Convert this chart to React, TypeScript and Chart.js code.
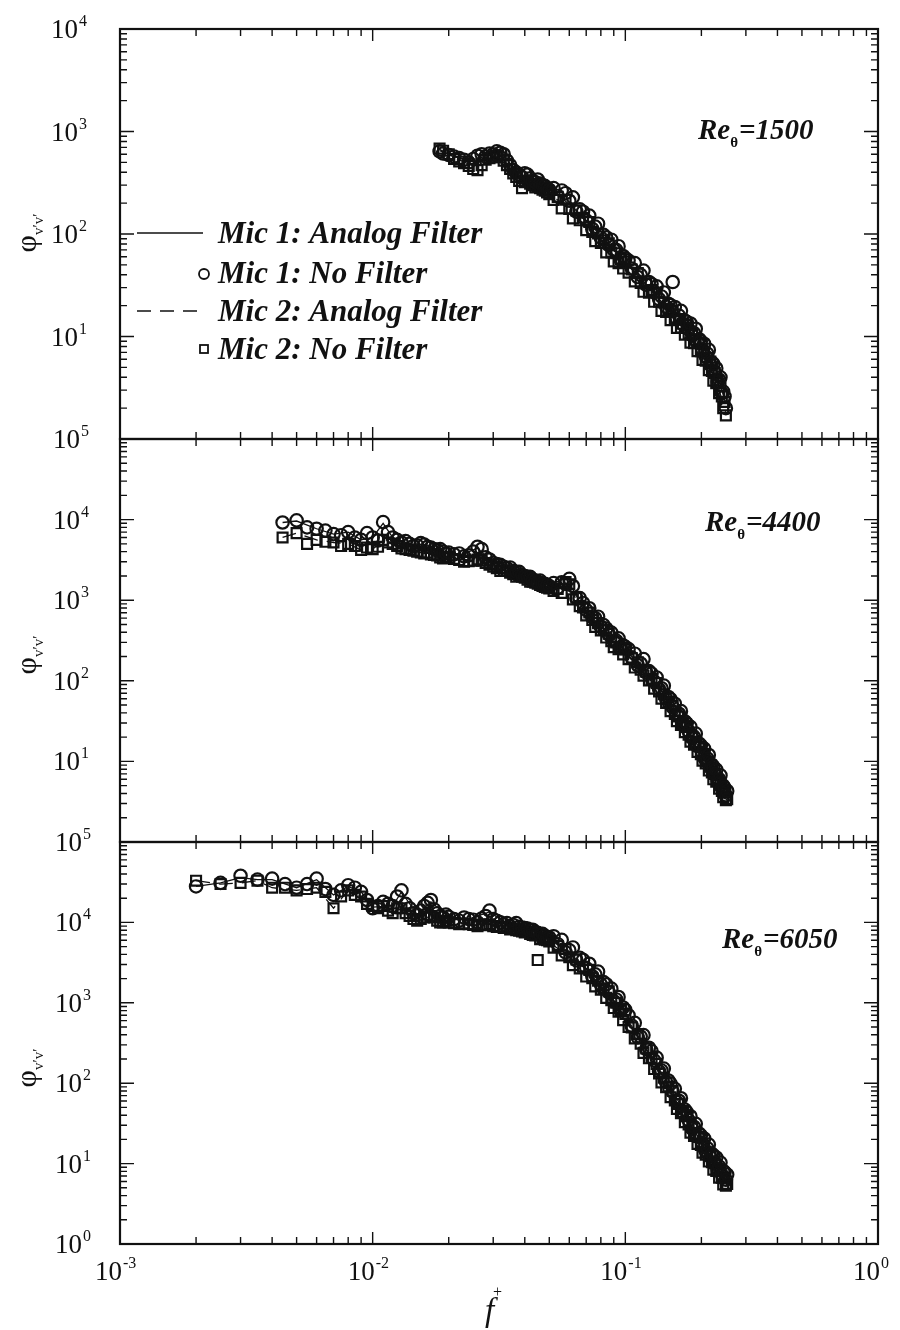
import React, { useEffect, useRef } from "react";
import { Chart, registerables } from "chart.js";

Chart.register(...registerables);

// ---------- Panel 1 : Re_theta = 1500 ----------
const f1 = [0.0184, 0.019, 0.02, 0.021, 0.022, 0.023, 0.024, 0.025, 0.026, 0.027, 0.028, 0.029, 0.03, 0.031, 0.032, 0.033, 0.034, 0.035, 0.036, 0.037, 0.038, 0.039, 0.04, 0.041, 0.042, 0.043, 0.044, 0.045, 0.046, 0.047, 0.048, 0.049, 0.05,
  0.052, 0.054, 0.056, 0.058, 0.06, 0.062, 0.064, 0.066, 0.068, 0.07, 0.072, 0.074, 0.076, 0.078, 0.08, 0.082, 0.084, 0.086, 0.088, 0.09, 0.092, 0.094, 0.096, 0.098, 0.1,
  0.103, 0.106, 0.109, 0.112, 0.115, 0.118, 0.121, 0.124, 0.127, 0.13, 0.133, 0.136, 0.139, 0.142, 0.145, 0.148, 0.151, 0.154, 0.157, 0.16, 0.163, 0.166, 0.169, 0.172, 0.175, 0.178, 0.181, 0.184, 0.187, 0.19, 0.193, 0.196, 0.199, 0.202, 0.205, 0.208, 0.211, 0.214, 0.217, 0.22, 0.223, 0.226, 0.229, 0.232, 0.235, 0.238, 0.241, 0.244, 0.247, 0.25];
const mic1NoFilter1 = [640, 610, 590, 570, 550, 530, 500, 540, 580, 600, 570, 610, 600, 640, 620, 600, 520, 470, 420, 400, 380, 360, 390, 380, 350, 330, 320, 340, 310, 300, 295, 280, 270,
  280, 235, 266, 250, 211, 228, 165, 174, 165, 136, 151, 112, 118, 126, 92, 98, 93, 78, 88, 70, 70, 76, 56, 61, 58,
  55, 46, 52, 38, 40, 44, 32, 34, 32.5, 27.3, 30.8, 23.2, 24.6, 26.9, 19.6, 20.9, 20.2, 34, 19.4, 14.9, 16, 17.8, 13.2, 14.3, 13.9, 11.8, 13.4, 10.2, 10.8, 11.9, 8.7, 9.4, 9, 7.5, 8.5, 6.4, 6.8, 7.4, 5.3, 5.6, 5.4, 4.4, 4.9, 3.6, 3.8, 4.0, 2.8, 2.9, 2.6, 2.0];
const mic2NoFilter1 = [680, 650, 600, 540, 510, 490, 460, 430, 420, 470, 530, 550, 560, 580, 560, 520, 470, 430, 390, 360, 330, 280, 320, 330, 310, 300, 285, 290, 280, 270, 265, 255, 245,
  215, 230, 178, 216, 176, 142, 170, 136, 144, 109, 131, 105, 85, 101, 82, 87, 66, 81, 66, 54, 65, 52, 57, 46, 54,
  42, 45, 34.4, 41.6, 33.3, 27.3, 33, 26.7, 28.4, 21.8, 26.7, 21.8, 17.8, 21.5, 17.4, 18.6, 14.4, 17.7, 14.6, 12.1, 14.8, 12.2, 13.3, 10.4, 12.9, 10.6, 8.7, 10.6, 8.6, 9.3, 7.2, 8.8, 7.2, 5.9, 7.1, 5.8, 6.2, 4.7, 5.7, 4.6, 3.7, 4.4, 3.5, 3.7, 2.8, 3.3, 2.6, 2.0, 2.3, 1.7];
const fLine1 = [0.0184, 0.021, 0.024, 0.027, 0.03, 0.033, 0.036, 0.04, 0.045, 0.05, 0.056, 0.063, 0.07, 0.08, 0.09, 0.1, 0.115, 0.13, 0.15, 0.17, 0.19, 0.21, 0.23, 0.25];
const mic1Analog1 = [650, 570, 520, 560, 610, 600, 440, 360, 310, 270, 225, 175, 135, 97, 72, 52, 37, 26, 18, 15, 10.2, 6.8, 4.4, 2.2];
const mic2Analog1 = [670, 560, 480, 470, 560, 540, 390, 330, 290, 250, 200, 160, 115, 87, 60, 46, 33, 24, 16.5, 12.5, 9, 5.8, 3.6, 1.8];

// ---------- Panel 2 : Re_theta = 4400 ----------
const f2 = [0.0044, 0.005, 0.0055, 0.006, 0.0065, 0.007, 0.0075, 0.008, 0.0085, 0.009, 0.0095, 0.01, 0.0105, 0.011, 0.0115, 0.012, 0.0125,
  0.013, 0.0135, 0.014, 0.0145, 0.015, 0.0155, 0.016, 0.0165, 0.017, 0.0175, 0.018, 0.0185, 0.019, 0.0195, 0.02,
  0.021, 0.022, 0.023, 0.024, 0.025, 0.026, 0.027, 0.028, 0.029, 0.03, 0.031, 0.032, 0.033, 0.034, 0.035, 0.036, 0.037, 0.038, 0.039, 0.04, 0.041, 0.042, 0.043, 0.044, 0.045, 0.046, 0.047, 0.048, 0.049, 0.05,
  0.052, 0.054, 0.056, 0.058, 0.06, 0.062, 0.064, 0.066, 0.068, 0.07, 0.072, 0.074, 0.076, 0.078, 0.08, 0.082, 0.084, 0.086, 0.088, 0.09, 0.092, 0.094, 0.096, 0.098, 0.1,
  0.103, 0.106, 0.109, 0.112, 0.115, 0.118, 0.121, 0.124, 0.127, 0.13, 0.133, 0.136, 0.139, 0.142, 0.145, 0.148, 0.151, 0.154, 0.157, 0.16, 0.163, 0.166, 0.169, 0.172, 0.175, 0.178, 0.181, 0.184, 0.187, 0.19, 0.193, 0.196, 0.199, 0.202, 0.205, 0.208, 0.211, 0.214, 0.217, 0.22, 0.223, 0.226, 0.229, 0.232, 0.235, 0.238, 0.241, 0.244, 0.247, 0.25, 0.253];
const mic1NoFilter2 = [9200, 9800, 8000, 7700, 7300, 6600, 6400, 7000, 6000, 5600, 6800, 6000, 5500, 9300, 7000, 6000, 5600,
  5200, 5400, 5000, 4700, 4800, 5100, 4900, 4600, 4500, 4300, 4200, 4300, 4000, 3800, 3900,
  3700, 3800, 3500, 3600, 4000, 4600, 4300, 3400, 3200, 2900, 2800, 2750, 2600, 2500, 2550, 2300, 2250, 2250, 2050, 2000, 1950, 1950, 1800, 1750, 1700, 1750, 1620, 1600, 1550, 1500,
  1630, 1420, 1670, 1600, 1840, 1500, 1060, 1060, 924, 760, 794, 611, 599, 624, 470, 490, 446, 375, 397, 310, 315, 336, 257, 275, 264,
  247, 195, 217, 156, 164, 186, 126, 132, 123, 98, 110, 79, 81, 87, 60, 63, 59, 47, 52, 38, 39, 42, 29.6, 31.4, 29.7, 23.8, 26.8, 19.5, 20.2, 22.1, 15.5, 16.6, 15.8, 12.7, 14.4, 10.5, 10.9, 12, 8.4, 9.1, 8.6, 7.0, 7.9, 5.8, 6.0, 6.7, 4.7, 5.0, 4.7, 3.8, 4.3];
const mic2NoFilter2 = [6000, 6800, 5000, 5600, 5300, 5200, 4700, 5000, 4700, 4200, 4500, 4300, 4600, 5600, 5200, 5000, 4700,
  4400, 4300, 4200, 4100, 4000, 3900, 3800, 3900, 3700, 3650, 3600, 3400, 3300, 3450, 3400,
  3250, 3150, 3000, 3050, 3100, 3200, 3100, 2900, 2750, 2600, 2500, 2300, 2350, 2300, 2200, 2100, 1950, 2000, 1950, 1900, 1800, 1700, 1700, 1650, 1600, 1550, 1500, 1460, 1430, 1400,
  1300, 1380, 1230, 1680, 1580, 1025, 1080, 845, 815, 646, 704, 567, 467, 520, 422, 432, 344, 383, 311, 262, 300, 246, 254, 212, 245,
  185, 191, 146, 170, 137, 116, 130, 101, 105, 80, 94, 74, 60, 68, 53, 55, 42, 49, 38.7, 31.6, 36, 28.4, 29.9, 23, 26.8, 21.4, 17.6, 20.3, 16.1, 17, 13.1, 15.4, 12.3, 10.2, 11.8, 9.4, 9.9, 7.7, 9, 7.3, 6, 7, 5.6, 5.9, 4.6, 5.4, 4.3, 3.6, 4.1, 3.3, 3.4];
const fLine2 = [0.0044, 0.005, 0.006, 0.007, 0.008, 0.009, 0.01, 0.011, 0.012, 0.014, 0.016, 0.019, 0.022, 0.026, 0.03, 0.035, 0.04, 0.047, 0.055, 0.06, 0.066, 0.075, 0.085, 0.1, 0.115, 0.13, 0.15, 0.17, 0.19, 0.21, 0.23, 0.252];
const mic1Analog2 = [9200, 9600, 7700, 6600, 7000, 5600, 6000, 9000, 6000, 5000, 4900, 4000, 3600, 4400, 2900, 2400, 2000, 1650, 1400, 1650, 950, 580, 390, 240, 155, 100, 54, 30, 17.5, 10, 5.8, 3.3];
const mic2Analog2 = [6000, 6800, 5600, 5200, 5000, 4200, 4300, 5500, 5000, 4200, 3800, 3300, 3200, 3150, 2600, 2200, 1900, 1550, 1300, 1400, 900, 540, 360, 220, 140, 92, 50, 28, 16, 9.4, 5.4, 3.1];

// ---------- Panel 3 : Re_theta = 6050 ----------
const f3 = [0.002, 0.0025, 0.003, 0.0035, 0.004, 0.0045, 0.005, 0.0055, 0.006, 0.0065, 0.007, 0.0075, 0.008, 0.0085, 0.009, 0.0095, 0.01,
  0.0105, 0.011, 0.0115, 0.012, 0.0125, 0.013, 0.0135, 0.014, 0.0145, 0.015, 0.0155, 0.016, 0.0165, 0.017, 0.0175, 0.018, 0.0185, 0.019, 0.0195, 0.02,
  0.021, 0.022, 0.023, 0.024, 0.025, 0.026, 0.027, 0.028, 0.029, 0.03, 0.031, 0.032, 0.033, 0.034, 0.035, 0.036, 0.037, 0.038, 0.039, 0.04, 0.041, 0.042, 0.043, 0.044, 0.045, 0.046, 0.047, 0.048, 0.049, 0.05,
  0.052, 0.054, 0.056, 0.058, 0.06, 0.062, 0.064, 0.066, 0.068, 0.07, 0.072, 0.074, 0.076, 0.078, 0.08, 0.082, 0.084, 0.086, 0.088, 0.09, 0.092, 0.094, 0.096, 0.098, 0.1,
  0.103, 0.106, 0.109, 0.112, 0.115, 0.118, 0.121, 0.124, 0.127, 0.13, 0.133, 0.136, 0.139, 0.142, 0.145, 0.148, 0.151, 0.154, 0.157, 0.16, 0.163, 0.166, 0.169, 0.172, 0.175, 0.178, 0.181, 0.184, 0.187, 0.19, 0.193, 0.196, 0.199, 0.202, 0.205, 0.208, 0.211, 0.214, 0.217, 0.22, 0.223, 0.226, 0.229, 0.232, 0.235, 0.238, 0.241, 0.244, 0.247, 0.25, 0.253];
const mic1NoFilter3 = [28000, 31000, 38000, 34000, 35000, 30000, 27000, 30000, 35000, 26000, 22000, 25000, 29000, 27000, 24000, 19000, 15000,
  16000, 18000, 17000, 16000, 21000, 25000, 17000, 15000, 13000, 12500, 14000, 16000, 17500, 19000, 14500, 13000, 12000, 11500, 12500, 11700,
  11000, 10500, 11500, 11000, 10800, 10000, 11200, 12000, 14000, 11000, 10500, 10000, 9500, 9800, 9000, 9300, 9800, 8800, 8600, 8500, 8400, 8000, 8100, 7600, 7400, 7000, 7200, 6800, 6600, 6500,
  6730, 5360, 6060, 4230, 4510, 4880, 3380, 3620, 3420, 2700, 3060, 2140, 2260, 2440, 1690, 1810, 1700, 1350, 1500, 1045, 1100, 1180, 813, 874, 814,
  696, 520, 563, 371, 380, 397, 265, 276, 250, 192, 208, 140, 144, 152, 103, 108, 99, 78, 85, 58, 60.5, 65, 44, 47, 43.7, 34.7, 38.8, 27.1, 28.6, 31.2, 21.6, 23.6, 22.4, 18, 20.5, 14.4, 15.6, 17.2, 12.1, 13.2, 12.7, 10.3, 11.9, 8.5, 9.2, 10.3, 7.3, 8.1, 7.8, 6.3, 7.3];
const mic2NoFilter3 = [33000, 30000, 31000, 33000, 27000, 27000, 25000, 26000, 27000, 24000, 15000, 21000, 25000, 22000, 21000, 17000, 16000,
  15000, 16000, 14000, 13000, 15000, 15000, 13000, 12000, 11000, 10500, 11000, 11500, 12500, 12000, 11500, 10500, 10000, 10000, 10500, 10000,
  9800, 9500, 9700, 9500, 9300, 9000, 9400, 9200, 9500, 9000, 8800, 8900, 8500, 8600, 8200, 8300, 8000, 7900, 7700, 7500, 7600, 7200, 7000, 6900, 3400, 6200, 6500, 6100, 6000, 5800,
  4850, 5090, 3880, 4670, 3690, 2930, 3450, 2680, 2810, 2120, 2570, 2030, 1600, 1880, 1460, 1520, 1150, 1390, 1080, 860, 1000, 774, 805, 608, 725,
  500, 495, 360, 410, 310, 238, 270, 204, 206, 150, 174, 132, 102, 117, 89, 91, 67, 80, 61, 48, 55, 42.5, 43.6, 32.8, 38.9, 30.6, 24.2, 28.5, 22.1, 23.3, 17.6, 21.5, 17.1, 13.7, 16.4, 12.9, 13.8, 10.6, 12.9, 10.4, 8.4, 10.1, 8.1, 8.6, 6.7, 8.3, 6.7, 5.5, 6.6, 5.3, 5.6];
const fLine3 = [0.002, 0.0025, 0.003, 0.0035, 0.004, 0.005, 0.006, 0.007, 0.008, 0.009, 0.01, 0.012, 0.013, 0.015, 0.017, 0.02, 0.024, 0.029, 0.035, 0.043, 0.052, 0.061, 0.072, 0.084, 0.1, 0.12, 0.14, 0.162, 0.186, 0.21, 0.234, 0.252];
const mic1Analog3 = [28000, 31000, 36000, 34000, 34000, 27000, 34000, 22000, 28000, 24000, 15500, 16000, 24000, 12500, 18000, 11700, 11000, 13500, 9000, 8000, 6000, 4000, 2400, 1300, 680, 280, 130, 60, 27, 14, 8.6, 5.8];
const mic2Analog3 = [33000, 30000, 31000, 33000, 27000, 25000, 27000, 15000, 25000, 21000, 16000, 13000, 15000, 10500, 12000, 10000, 9500, 9500, 8200, 7000, 5200, 3500, 2300, 1250, 640, 270, 125, 58, 26, 13.5, 8.2, 5.4];

// ---------- labels ----------
const seriesLabels = ["Mic 1: Analog Filter", "Mic 1: No Filter", "Mic 2: Analog Filter", "Mic 2: No Filter"];
const reValues = ["1500", "4400", "6050"];
const xTickExps = [-3, -2, -1, 0];
const yLabelExps1 = [1, 2, 3, 4];
const yLabelExps2 = [1, 2, 3, 4, 5];
const yLabelExps3 = [0, 1, 2, 3, 4, 5];

const SERIF = '"Liberation Serif", "Times New Roman", serif';
const INK = "#111";

type Panel = {
  fMarks: number[]; m1: number[]; m2: number[];
  fLine: number[]; a1: number[]; a2: number[];
  yMaxExp: number; top: number; bottom: number;
  yLabels: number[]; re: string; reX: number; reY: number; phiY: number;
  legend: boolean; xLabels: boolean; labelX: number;
};

const PANELS: Panel[] = [
  { fMarks: f1, m1: mic1NoFilter1, m2: mic2NoFilter1, fLine: fLine1, a1: mic1Analog1, a2: mic2Analog1, yMaxExp: 4, top: 29, bottom: 439, yLabels: yLabelExps1, re: reValues[0], reX: 698, reY: 139, phiY: 233, legend: true, xLabels: false, labelX: 51 },
  { fMarks: f2, m1: mic1NoFilter2, m2: mic2NoFilter2, fLine: fLine2, a1: mic1Analog2, a2: mic2Analog2, yMaxExp: 5, top: 439, bottom: 842, yLabels: yLabelExps2, re: reValues[1], reX: 705, reY: 531, phiY: 655, legend: false, xLabels: false, labelX: 53 },
  { fMarks: f3, m1: mic1NoFilter3, m2: mic2NoFilter3, fLine: fLine3, a1: mic1Analog3, a2: mic2Analog3, yMaxExp: 5, top: 842, bottom: 1244, yLabels: yLabelExps3, re: reValues[2], reX: 722, reY: 948, phiY: 1068, legend: false, xLabels: true, labelX: 55 },
];

const LEFT = 120;
const RIGHT = 878;

function pts(xs: number[], ys: number[]) {
  const n = Math.min(xs.length, ys.length);
  const out: { x: number; y: number }[] = [];
  for (let i = 0; i < n; i++) out.push({ x: xs[i], y: ys[i] });
  return out;
}

function drawPow(ctx: CanvasRenderingContext2D, exp: number, x: number, yCenter: number, mode: "left" | "tick") {
  ctx.font = `27px ${SERIF}`;
  const base = "10";
  const w = ctx.measureText(base).width;
  const bx = mode === "left" ? x : x - w + 2;
  const baseline = yCenter + 9;
  ctx.textAlign = "left";
  ctx.textBaseline = "alphabetic";
  ctx.fillText(base, bx, baseline);
  ctx.font = `16px ${SERIF}`;
  ctx.fillText(String(exp), bx + w + 1, baseline - 12);
}

function decoPlugin(p: Panel, idx: number) {
  return {
    id: "panelDeco" + idx,
    afterDatasetsDraw(chart: any) {
      const ctx: CanvasRenderingContext2D = chart.ctx;
      const a = chart.chartArea;
      const xs = chart.scales.x;
      const ys = chart.scales.y;
      ctx.save();
      ctx.strokeStyle = INK;
      ctx.fillStyle = INK;
      ctx.setLineDash([]);
      // ticks (inward)
      ctx.lineWidth = 1.4;
      ctx.beginPath();
      for (let e = 0; e <= p.yMaxExp; e++) {
        for (let k = 1; k <= 9; k++) {
          const v = k * Math.pow(10, e);
          if (v > Math.pow(10, p.yMaxExp) + 1e-9) break;
          if (e === 0 && k === 1) continue;
          const py = ys.getPixelForValue(v);
          const len = k === 1 ? 14 : 7;
          ctx.moveTo(a.left, py); ctx.lineTo(a.left + len, py);
          ctx.moveTo(a.right, py); ctx.lineTo(a.right - len, py);
        }
      }
      for (let e = -3; e <= 0; e++) {
        for (let k = 1; k <= 9; k++) {
          const v = k * Math.pow(10, e);
          if (v > 1 + 1e-9) break;
          const px = xs.getPixelForValue(v);
          const len = k === 1 ? 12 : 7;
          ctx.moveTo(px, a.top); ctx.lineTo(px, a.top + len);
          ctx.moveTo(px, a.bottom); ctx.lineTo(px, a.bottom - len);
        }
      }
      ctx.stroke();
      // frame
      ctx.lineWidth = 2.2;
      ctx.strokeRect(a.left, a.top, a.right - a.left, a.bottom - a.top);

      // y tick labels
      for (const e of p.yLabels) {
        drawPow(ctx, e, p.labelX, ys.getPixelForValue(Math.pow(10, e)), "left");
      }
      // x tick labels + x title
      if (p.xLabels) {
        for (const e of xTickExps) {
          drawPow(ctx, e, xs.getPixelForValue(Math.pow(10, e)), 1271, "tick");
        }
        ctx.font = `italic 33px ${SERIF}`;
        ctx.fillText("f", 485, 1321);
        ctx.font = `16px ${SERIF}`;
        ctx.fillText("+", 493, 1297);
      }

      // y axis title (rotated)
      ctx.save();
      ctx.translate(36, p.phiY);
      ctx.rotate(-Math.PI / 2);
      ctx.font = `30px ${SERIF}`;
      const wPhi = ctx.measureText("\u03C6").width;
      ctx.font = `15px ${SERIF}`;
      const sub = "v\u2032v\u2032";
      const wSub = ctx.measureText(sub).width;
      const start = -(wPhi + wSub) / 2;
      ctx.font = `30px ${SERIF}`;
      ctx.fillText("\u03C6", start, 0);
      ctx.font = `15px ${SERIF}`;
      ctx.fillText(sub, start + wPhi, 7);
      ctx.restore();

      // Re label
      ctx.font = `italic bold 29px ${SERIF}`;
      ctx.fillText("Re", p.reX, p.reY);
      const wRe = ctx.measureText("Re").width;
      ctx.font = `bold 15px ${SERIF}`;
      ctx.fillText("\u03B8", p.reX + wRe, p.reY + 8);
      const wTh = ctx.measureText("\u03B8").width;
      ctx.font = `italic bold 29px ${SERIF}`;
      ctx.fillText("=" + p.re, p.reX + wRe + wTh + 1, p.reY);

      // legend
      if (p.legend) {
        const rows = [243, 283, 321, 359];
        ctx.lineWidth = 1.4;
        ctx.beginPath();
        ctx.moveTo(137, 233); ctx.lineTo(203, 233);
        ctx.stroke();
        ctx.setLineDash([14, 9]);
        ctx.beginPath();
        ctx.moveTo(137, 311); ctx.lineTo(203, 311);
        ctx.stroke();
        ctx.setLineDash([]);
        ctx.lineWidth = 1.8;
        ctx.beginPath();
        ctx.arc(204, 274, 5, 0, Math.PI * 2);
        ctx.stroke();
        ctx.strokeRect(200, 345, 8, 8);
        ctx.font = `italic bold 31px ${SERIF}`;
        seriesLabels.forEach((t, i) => ctx.fillText(t, 218, rows[i]));
      }
      ctx.restore();
    },
  };
}

function buildConfig(p: Panel, idx: number): any {
  return {
    type: "scatter",
    data: {
      datasets: [
        { label: seriesLabels[0], data: pts(p.fLine, p.a1), showLine: true, borderColor: INK, borderWidth: 1.3, pointRadius: 0, tension: 0, fill: false },
        { label: seriesLabels[1], data: pts(p.fMarks, p.m1), showLine: false, pointStyle: "circle", pointRadius: 6.2, pointBorderWidth: 2.2, pointBorderColor: INK, pointBackgroundColor: "rgba(0,0,0,0)" },
        { label: seriesLabels[2], data: pts(p.fLine, p.a2), showLine: true, borderColor: INK, borderWidth: 1.3, borderDash: [14, 9], pointRadius: 0, tension: 0, fill: false },
        { label: seriesLabels[3], data: pts(p.fMarks, p.m2), showLine: false, pointStyle: "rect", pointRadius: 7, pointBorderWidth: 2.2, pointBorderColor: INK, pointBackgroundColor: "rgba(0,0,0,0)" },
      ],
    },
    options: {
      responsive: false,
      maintainAspectRatio: false,
      animation: false,
      devicePixelRatio: 1,
      events: [],
      layout: { padding: { left: LEFT, right: 900 - RIGHT, top: p.top, bottom: 1330 - p.bottom } },
      scales: {
        x: { type: "logarithmic", min: 0.001, max: 1, display: false },
        y: { type: "logarithmic", min: 1, max: Math.pow(10, p.yMaxExp), display: false },
      },
      plugins: { legend: { display: false }, tooltip: { enabled: false } },
    },
    plugins: [decoPlugin(p, idx)],
  };
}

export default function App() {
  const r0 = useRef<HTMLCanvasElement>(null);
  const r1 = useRef<HTMLCanvasElement>(null);
  const r2 = useRef<HTMLCanvasElement>(null);
  const refs = [r0, r1, r2];

  useEffect(() => {
    const charts = PANELS.map((p, i) => new Chart(refs[i].current as HTMLCanvasElement, buildConfig(p, i)));
    return () => charts.forEach((c) => c.destroy());
  }, []);

  return (
    <div style={{ position: "absolute", left: 0, top: 0, width: 900, height: 1330, background: "#fff" }}>
      {refs.map((r, i) => (
        <canvas key={i} ref={r} width={900} height={1330} style={{ position: "absolute", left: 0, top: 0, width: 900, height: 1330 }} />
      ))}
    </div>
  );
}
